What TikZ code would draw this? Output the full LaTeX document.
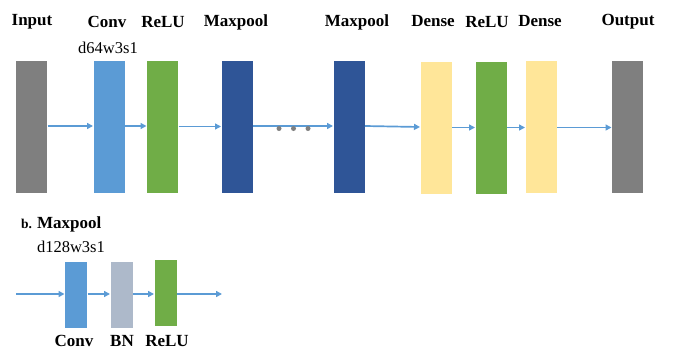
\documentclass[tikz,border=0pt]{standalone}
\usepackage{fontspec}
\setmainfont{Liberation Serif}
\usetikzlibrary{arrows.meta}
\definecolor{cgray}{HTML}{7F7F7F}
\definecolor{cblue}{HTML}{5B9BD5}
\definecolor{cgreen}{HTML}{70AD47}
\definecolor{cdark}{HTML}{2F5597}
\definecolor{cyellow}{HTML}{FFE699}
\definecolor{cbn}{HTML}{ADB9CA}
\tikzset{
  x=1pt, y=-1pt,
  layer/.style={draw=white, line width=0.4pt, minimum width=32pt, minimum height=133pt, inner sep=0pt, outer sep=0pt},
  small/.style={draw=white, line width=0.4pt, minimum width=23pt, minimum height=67pt, inner sep=0pt, outer sep=0pt},
  lbl/.style={font=\fontsize{17}{17}\selectfont\bfseries, inner sep=0pt},
  sub/.style={font=\fontsize{16.5}{16.5}\selectfont, inner sep=0pt},
  conn/.style={draw=cblue, line width=1.7pt, -{Triangle[length=6pt,width=6pt]}},
  dot/.style={circle, fill=cgray, minimum size=5pt, inner sep=0pt}
}
\begin{document}
\begin{tikzpicture}
\useasboundingbox (0,0) rectangle (678,356);
% top row boxes
\node[layer, fill=cgray]   (in)  at (31.5,126.5) {};
\node[layer, fill=cblue]   (cv)  at (109,126.5) {};
\node[layer, fill=cgreen]  (r1)  at (162.5,126.5) {};
\node[layer, fill=cdark]   (m1)  at (237,126.5) {};
\node[layer, fill=cdark]   (m2)  at (349,126.5) {};
\node[layer, fill=cyellow] (d1)  at (436,127.5) {};
\node[layer, fill=cgreen]  (r2)  at (491,128) {};
\node[layer, fill=cyellow] (d2)  at (541,126.5) {};
\node[layer, fill=cgray]   (out) at (627.5,126.5) {};
% top labels
\node[lbl] (tin)  at (32,22) {Input};
\node[lbl] (tcv)  at (107,22) {Conv};
\node[lbl] (tr1)  at (163,22) {ReLU};
\node[lbl] (tm1)  at (236,22) {Maxpool};
\node[lbl] (tm2)  at (357,22) {Maxpool};
\node[lbl] (td1)  at (433,21) {Dense};
\node[lbl] (tr2)  at (487,22) {ReLU};
\node[lbl] (td2)  at (540,21) {Dense};
\node[lbl] (tout) at (628,22) {Output};
\node[sub] (tcvs) at (108,48) {d64w3s1};
% top connectors
\draw[conn] (in.east |- 0,126) -- (cv.west |- 0,126);
\draw[conn] (cv.east |- 0,126) -- (r1.west |- 0,126);
\draw[conn] (r1.east |- 0,126.5) -- (m1.west |- 0,126.5);
\draw[conn] (m1.east |- 0,126) -- (m2.west |- 0,126);
\draw[conn] (m2.east |- 0,126) -- (d1.west |- 0,127);
\draw[conn] (d1.east |- 0,127.5) -- (r2.west |- 0,127.5);
\draw[conn] (r2.east |- 0,127.5) -- (d2.west |- 0,127.5);
\draw[conn] (d2.east |- 0,127.5) -- (out.west |- 0,127.5);
\node[dot] (p1) at (279,128.5) {};
\node[dot] (p2) at (293.5,128.5) {};
\node[dot] (p3) at (308,128.5) {};
% bottom
\node[font=\fontsize{13.5}{13.5}\selectfont\bfseries, inner sep=0pt, anchor=base west] (bb) at (21,228) {b.};
\node[font=\fontsize{17}{17}\selectfont\bfseries, inner sep=0pt, anchor=base west] (bm) at (37,228) {Maxpool};
\node[sub] (bsub) at (71,247) {d128w3s1};
\node[small, fill=cblue]  (bc) at (76,294.5) {};
\node[small, fill=cbn]    (bn) at (121.5,294.5) {};
\node[small, fill=cgreen] (br) at (165.5,293) {};
\coordinate (bs) at (16,294);
\coordinate (be) at (222,294);
\draw[conn] (bs) -- (bc.west |- bs);
\draw[conn] (bc.east |- bs) -- (bn.west |- bs);
\draw[conn] (bn.east |- bs) -- (br.west |- bs);
\draw[conn] (br.east |- bs) -- (be);
\node[lbl] (lbc) at (74,341) {Conv};
\node[lbl] (lbn) at (122,341) {BN};
\node[lbl] (lbr) at (167,341) {ReLU};
\end{tikzpicture}
\end{document}
